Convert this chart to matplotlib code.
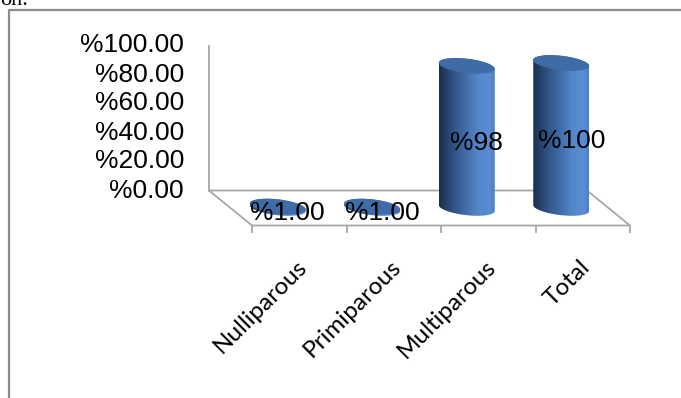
import numpy as np
import matplotlib
matplotlib.use("Agg")
import matplotlib.pyplot as plt
from matplotlib.colors import LinearSegmentedColormap
from matplotlib.patches import Polygon
from matplotlib.lines import Line2D

# ---------------- data ----------------
categories = ["Nulliparous", "Primiparous", "Multiparous", "Total"]
values = [1.0, 1.0, 98.0, 100.0]
value_labels = ["%1.00", "%1.00", "%98", "%100"]
y_ticks = [0, 20, 40, 60, 80, 100]
y_tick_labels = ["%0.00", "%20.00", "%40.00", "%60.00", "%80.00", "%100.00"]

# ---------------- layout (pixels of the 681x398 canvas) ----------------
W, H = 681, 398
X0_PX = 252.0      # front-left edge of the floor
CAT_PX = 94.5      # width of one category
Y0_PX = 225.5      # front floor line (from top)
PCT_PX = 1.45      # pixels per percent
DX = -43.0 / CAT_PX   # depth offset (back wall) in data units
DY = 35.0 / PCT_PX

fig = plt.figure(figsize=(W / 100, H / 100), dpi=100)
ax = fig.add_axes([0, 0, 1, 1])
ax.set_xlim(-X0_PX / CAT_PX, (W - X0_PX) / CAT_PX)
ax.set_ylim((Y0_PX - H) / PCT_PX, Y0_PX / PCT_PX)
ax.axis("off")

grid_col = "#a6a6a6"
lw = 1.3
n = len(categories)
ymax = max(y_ticks)

# back wall axis line
ax.add_line(Line2D([DX, DX], [DY, DY + ymax], color=grid_col, lw=lw, zorder=1))
# floor outline
ax.add_line(Line2D([0, DX, n + DX, n, 0], [0, DY, DY, 0, 0], color=grid_col, lw=lw, zorder=1))
# category ticks
for i in range(n + 1):
    ax.add_line(Line2D([i, i], [0, -4.5], color=grid_col, lw=lw, zorder=1))

# y tick labels on back wall
for t, lab in zip(y_ticks, y_tick_labels):
    ax.text(DX - 25.0 / CAT_PX, t + DY, lab, ha="right", va="center",
            fontsize=19, family="Liberation Sans", color="black")

# cylinders
cmap = LinearSegmentedColormap.from_list(
    "cyl", [(0.0, "#1b2f4b"), (0.3, "#33588c"), (0.7, "#5486c9"),
            (0.9, "#5a8dd4"), (1.0, "#4e7fc2")])
grad = np.linspace(0, 1, 256)[None, :]
rx = 28.0 / CAT_PX
ry = 7.2 / PCT_PX
shear = 3.0 / PCT_PX
top_col = "#3f6ba6"


def ell(cx, cy, t):
    return cx + rx * np.cos(t), cy + ry * np.sin(t) - shear * np.cos(t)


for i, (v, lab) in enumerate(zip(values, value_labels)):
    cx = i + 0.5 + DX / 2
    yb = DY / 2
    yt = yb + v
    t1 = np.linspace(np.pi, 2 * np.pi, 60)
    t2 = np.linspace(0, np.pi, 60)
    bx, by = ell(cx, yb, t1)
    tx, ty = ell(cx, yt, t2)
    verts = np.column_stack([np.r_[bx, tx], np.r_[by, ty]])
    body = Polygon(verts, closed=True, facecolor="none", edgecolor="none")
    ax.add_patch(body)
    im = ax.imshow(grad, cmap=cmap, aspect="auto", interpolation="bilinear",
                   extent=[cx - rx, cx + rx, yb - ry - shear - 1, yt + ry + shear + 1],
                   zorder=2)
    im.set_clip_path(body)
    ta = np.linspace(0, 2 * np.pi, 120)
    ex, ey = ell(cx, yt, ta)
    ax.add_patch(Polygon(np.column_stack([ex, ey]), closed=True,
                         facecolor=top_col, edgecolor="none", zorder=3))
    ax.text(cx + 10.0 / CAT_PX, yb + v / 2 - 6.0 / PCT_PX, lab,
            ha="center", va="center", fontsize=19, family="Liberation Sans",
            color="black", zorder=5)

# category labels
for i, c in enumerate(categories):
    ax.text(i + 0.5 + 4.0 / CAT_PX, -38.0 / PCT_PX, c, rotation=45,
            rotation_mode="anchor", ha="right", va="center",
            fontsize=17.5, family="Lato", color="black")

ax.set_xlim(-X0_PX / CAT_PX, (W - X0_PX) / CAT_PX)
ax.set_ylim((Y0_PX - H) / PCT_PX, Y0_PX / PCT_PX)

# outer frame of the picture
frame_col = "#8c8c8c"
fig.add_artist(Line2D([9 / W, 9 / W, 1.0], [0.0, 1 - 10 / H, 1 - 10 / H],
                      transform=fig.transFigure, color=frame_col, lw=1.6))
fig.text(0.0, 1 - 5 / H, "on.", ha="left", va="baseline", fontsize=16,
         family="Liberation Serif", color="black")

fig.savefig("out.png", dpi=100)
